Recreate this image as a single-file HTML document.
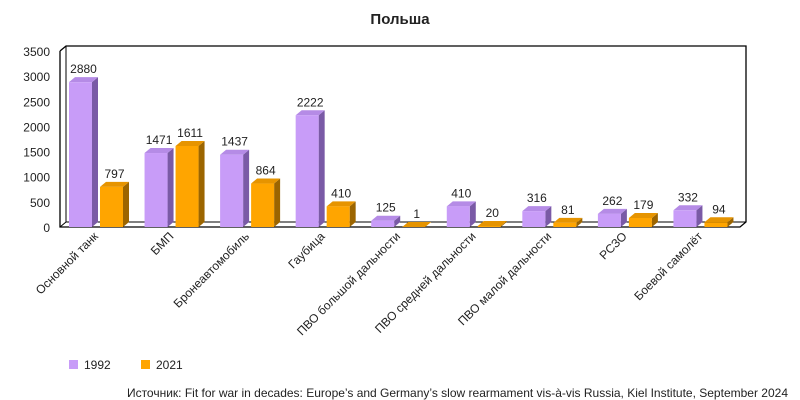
<!DOCTYPE html>
<html><head><meta charset="utf-8">
<style>
body{margin:0;background:#fff;}
svg{display:block;font-family:"Liberation Sans","DejaVu Sans",sans-serif;}
</style></head><body>
<svg id="chart" width="800" height="400" viewBox="0 0 800 400">
<text x="400" y="24" text-anchor="middle" font-size="15" font-weight="bold" fill="#222">Польша</text>
<g id="axes"></g>
<g id="bars"></g>
<g id="labels"></g>
<g>
<rect x="69" y="360" width="9" height="9" fill="#c89cf8"/>
<text x="84" y="369" font-size="12" fill="#222">1992</text>
<rect x="141" y="360" width="9" height="9" fill="#ffa500"/>
<text x="156" y="369" font-size="12" fill="#222">2021</text>
</g>
<text x="788" y="397" text-anchor="end" font-size="12" fill="#222">Источник: Fit for war in decades: Europe’s and Germany’s slow rearmament vis-à-vis Russia, Kiel Institute, September 2024</text>
</svg>
<script>
const categories=["Основной танк","БМП","Бронеавтомобиль","Гаубица","ПВО большой дальности","ПВО средней дальности","ПВО малой дальности","РСЗО","Боевой самолёт"];
const values1992=[2880,1471,1437,2222,125,410,316,262,332];
const values2021=[797,1611,864,410,1,20,81,179,94];
const yTicks=[0,500,1000,1500,2000,2500,3000,3500];
const NS="http://www.w3.org/2000/svg";
const x0=60,x1=740,y0=227,yTop=51,dx=6,dy=5;
const yMax=3500;
const y=v=>y0-(v/yMax)*(y0-yTop);
const cw=(x1-x0)/categories.length;
const xCat=i=>x0+i*cw;
function mk(tag,attrs,parent){const e=document.createElementNS(NS,tag);for(const k in attrs)e.setAttribute(k,attrs[k]);parent.appendChild(e);return e;}
const ax=document.getElementById('axes');
let w=mk('polyline',{points:`${x0},${yTop} ${x0+dx},${yTop-dy} ${x1+dx},${yTop-dy} ${x1+dx},${y0-dy} ${x1},${y0} ${x0},${y0} ${x0},${yTop}`,fill:'none',stroke:'#000','stroke-width':1.3},ax);


let wl=mk('polyline',{points:`${x0+dx},${yTop-dy} ${x0+dx},${y0-dy} ${x1+dx},${y0-dy}`,fill:'none',stroke:'#000','stroke-width':1},ax);


let fl=mk('line',{x1:x0,y1:y0,x2:x0+dx,y2:y0-dy,stroke:'#000','stroke-width':1},ax);


yTicks.forEach(t=>{const tx=mk('text',{x:50,y:y(t)+5,'text-anchor':'end','font-size':12,fill:'#222'},ax);tx.textContent=t;

});
const bg=document.getElementById('bars');
function bar(xl,v,front,side,top,name){
 const g=mk('g',{},bg);
 
 
 const bw=23,yt=y(v);
 mk('polygon',{points:`${xl+bw},${y0} ${xl+bw+dx},${y0-dy} ${xl+bw+dx},${yt-dy} ${xl+bw},${yt}`,fill:side},g);
 mk('polygon',{points:`${xl},${yt} ${xl+dx},${yt-dy} ${xl+bw+dx},${yt-dy} ${xl+bw},${yt}`,fill:top},g);
 mk('rect',{x:xl,y:yt,width:bw,height:y0-yt,fill:front},g);
 const t=mk('text',{x:xl+bw/2+3,y:yt-dy-4,'text-anchor':'middle','font-size':12,fill:'#222'},g);
 t.textContent=v;
 
 
}
const lg=document.getElementById('labels');
categories.forEach((c,i)=>{
 bar(xCat(i)+9,values1992[i],'#c89cf8','#7a5aa6','#b58be6','bar-1992-'+i);
 bar(xCat(i)+40,values2021[i],'#ffa500','#9c6500','#e69400','bar-2021-'+i);
 const ax2=xCat(i)+cw/2+1,ay=237;
 const t=mk('text',{x:ax2,y:ay,'text-anchor':'end','font-size':12,fill:'#222',transform:`rotate(-45 ${ax2} ${ay})`},lg);
 t.textContent=c;
 
 
});
</script>
</body></html>
